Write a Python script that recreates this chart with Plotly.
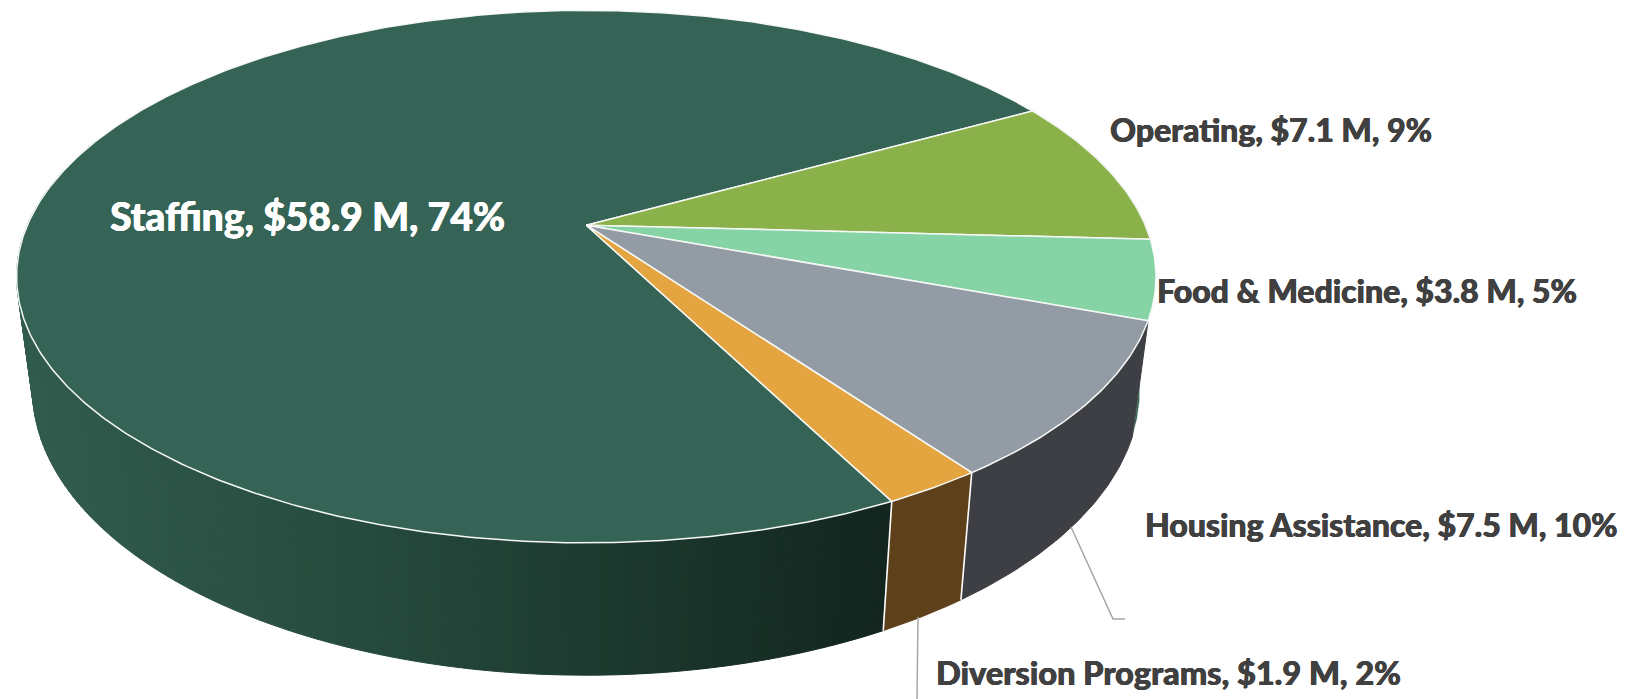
import numpy as np
import plotly.graph_objects as go

categories = ["Staffing", "Operating", "Food & Medicine", "Housing Assistance", "Diversion Programs"]
amounts = [58.9, 7.1, 3.8, 7.5, 1.9]
amount_text = ["$58.9 M", "$7.1 M", "$3.8 M", "$7.5 M", "$1.9 M"]
percent_text = ["74%", "9%", "5%", "10%", "2%"]
top_colors = ["#356355", "#8bb24a", "#86d3a6", "#939ca5", "#e4a43f"]
wall_colors = [None, "#4f6f2c", "#2f6a4c", "#3e3f44", "#5e411b"]
label_colors = ["#ffffff", "#404040", "#404040", "#404040", "#404040"]
label_x = [108, 1108, 1155, 1143, 934]
label_y = [216, 129, 290, 524, 672]
label_size = [39, 32, 32, 32, 32.5]

W, H = 1627, 699
START = 153.1
CX, CY, A, B, K = 586.3, 225.2, 559.0, 256.3, -0.193
FX, CY2, GY = 0.972, 334.1, 1.074


def top_pt(deg):
    t = np.radians(deg)
    u, v = np.sin(t), -np.cos(t)
    s = 1 + K * v
    return CX + A * u / s, CY + B * v / s


def low_pt(deg):
    x, y = top_pt(deg)
    return CX + FX * (x - CX), CY2 + GY * (y - CY)


def arc(fn, a0, a1, n=None):
    n = n or max(2, int(abs(a1 - a0) * 2))
    d = np.linspace(a0, a1, n)
    return fn(d)


def wall_poly(a0, a1):
    xt, yt = arc(top_pt, a0, a1)
    xl, yl = arc(low_pt, a1, a0)
    return list(xt) + list(xl) + [xt[0]], list(yt) + list(yl) + [yt[0]]


def lerp_color(c0, c1, f):
    return "rgb(%d,%d,%d)" % tuple(round(a + (b - a) * f) for a, b in zip(c0, c1))


total = sum(amounts)
sweeps = [v / total * 360 for v in amounts]
edges = [START]
for s in sweeps:
    edges.append(edges[-1] + s)

fig = go.Figure()


def poly(xs, ys, fill, line=None, w=1.0):
    fig.add_trace(go.Scatter(x=xs, y=ys, mode="lines", fill="toself", fillcolor=fill,
                             line=dict(color=line or fill, width=w), hoverinfo="skip",
                             showlegend=False))


# walls, back to front
for i in (1, 2):
    a0, a1 = edges[i] % 360, edges[i + 1] % 360
    xs, ys = wall_poly(a0, a1)
    poly(xs, ys, wall_colors[i], "#ffffff" if i == 2 else None, 0.6)

# staffing wall with horizontal gradient, drawn in fine strips
c_left, c_mid, c_right = (49, 92, 77), (38, 75, 62), (18, 37, 30)
st0, st1 = edges[0], 290.0
steps = np.linspace(st1, st0, 138)
for a1, a0 in zip(steps[:-1], steps[1:]):
    xs, ys = wall_poly(a0, a1)
    mx = float(np.mean(xs))
    f = np.clip((mx - 17) / (890 - 17), 0, 1)
    col = lerp_color(c_left, c_mid, f / 0.4) if f < 0.4 else lerp_color(c_mid, c_right, (f - 0.4) / 0.6)
    poly(xs, ys, col)

for i in (3, 4):
    xs, ys = wall_poly(edges[i], edges[i + 1])
    poly(xs, ys, wall_colors[i])

# white seams on the wall
for a in (edges[4], edges[5]):
    x0, y0 = top_pt(a)
    x1, y1 = low_pt(a)
    fig.add_trace(go.Scatter(x=[x0, x1], y=[y0, y1], mode="lines", hoverinfo="skip", showlegend=False,
                             line=dict(color="#ffffff", width=1.6)))

# top face
for i in range(len(amounts)):
    xa, ya = arc(top_pt, edges[i], edges[i + 1])
    xs = [CX] + list(xa) + [CX]
    ys = [CY] + list(ya) + [CY]
    poly(xs, ys, top_colors[i], "#f6f8f6", 1.5)

# leader lines
for lx, ly in (([1071, 1113, 1125], [527, 619, 619]), ([918, 917], [617, 699])):
    fig.add_trace(go.Scatter(x=lx, y=ly, mode="lines", hoverinfo="skip", showlegend=False,
                             line=dict(color="#a6a6a6", width=1.5)))

for i, name in enumerate(categories):
    c = label_colors[i]
    fig.add_annotation(x=label_x[i], y=label_y[i], xanchor="left", yanchor="middle", showarrow=False,
                       text=f"{name}, {amount_text[i]}, {percent_text[i]}",
                       font=dict(family="Lato", size=label_size[i], color=c, weight=900,
                                 shadow=f"0.5px 0 0 {c}, -0.3px 0 0 {c}"))

fig.update_layout(width=W, height=H, margin=dict(l=0, r=0, t=0, b=0), autosize=False,
                  paper_bgcolor="#ffffff", plot_bgcolor="#ffffff", showlegend=False,
                  xaxis=dict(range=[0, W], visible=False, fixedrange=True),
                  yaxis=dict(range=[H, 0], visible=False, fixedrange=True))
fig.write_html("out.html", config={"displayModeBar": False},
               post_script="document.body.style.margin='0';document.body.style.overflow='hidden';")
